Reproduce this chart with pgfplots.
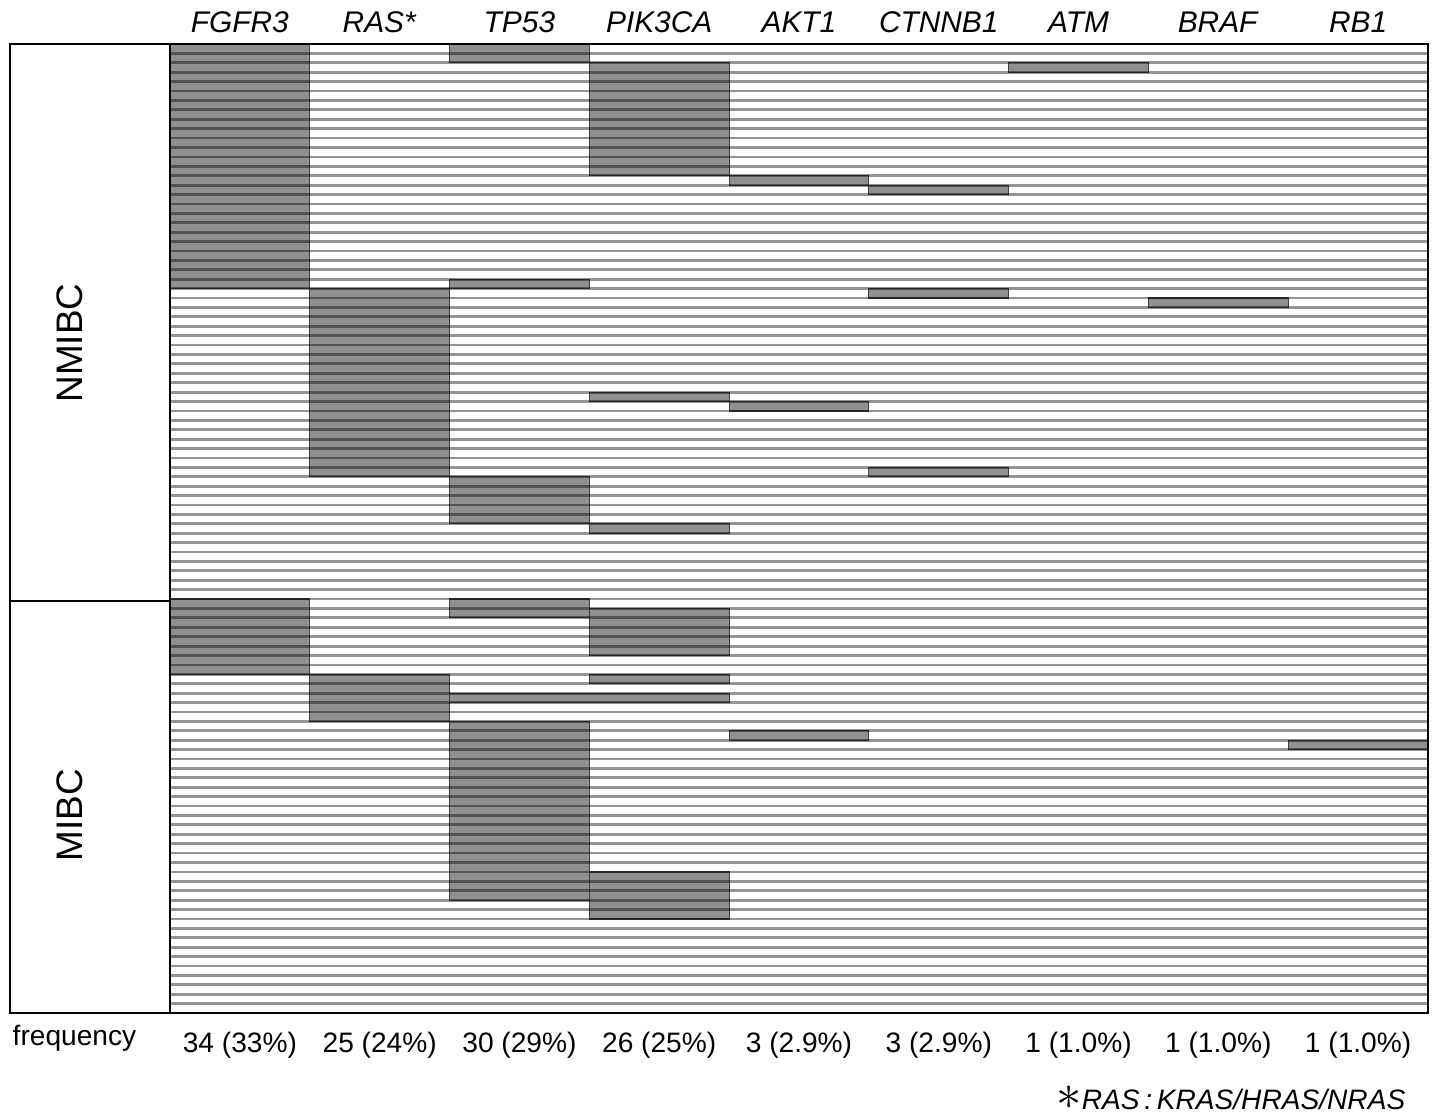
\documentclass[border=0pt]{standalone}
\usepackage{pgfplots}
\pgfplotsset{compat=1.18}
\usepackage{fontspec}
\setmainfont{Liberation Sans}
\definecolor{blkfill}{RGB}{144,144,144}
\newcommand{\blk}[4]{\addplot[blkstyle] coordinates {(#1,#3) (#2,#3) (#2,#4) (#1,#4)} -- cycle;}
\begin{document}
\begin{tikzpicture}
\pgfplotsset{blkstyle/.style={fill=blkfill, draw=black!75, line width=0.12mm, mark=none}}
\begin{axis}[
  at={(0,0)}, anchor=south west, scale only axis,
  width=125.8mm, height=96.9mm,
  xmin=0, xmax=9, ymin=0, ymax=103, y dir=reverse,
  axis on top,
  ytick={0,1,...,103}, yticklabels={}, ymajorgrids,
  xtick={0.5,1.5,...,8.5},
  xticklabels={\textit{FGFR3},\textit{RAS*},\textit{TP53},\textit{PIK3CA},\textit{AKT1},\textit{CTNNB1},\textit{ATM},\textit{BRAF},\textit{RB1}},
  xticklabel pos=top,
  xticklabel style={font=\fontsize{8.5}{10}\selectfont, inner sep=0.6mm, yshift=0.5mm},
  major tick length=0pt,
  grid style={black, opacity=0.42, line width=0.28mm},
  axis line style={black, line width=0.25mm},
  clip=false,
]
% FGFR3
\blk{0}{1}{0}{26}
\blk{0}{1}{59}{67}
% RAS
\blk{1}{2}{26}{46}
\blk{1}{2}{67}{72}
% TP53
\blk{2}{3}{0}{2}
\blk{2}{3}{25}{26}
\blk{2}{3}{46}{51}
\blk{2}{3}{59}{61}
\blk{2}{3}{72}{91}
% PIK3CA
\blk{3}{4}{2}{14}
\blk{3}{4}{37}{38}
\blk{3}{4}{51}{52}
\blk{3}{4}{60}{65}
\blk{3}{4}{67}{68}
\blk{3}{4}{88}{93}
% TP53 + PIK3CA (same sample)
\blk{2}{4}{69}{70}
% AKT1
\blk{4}{5}{14}{15}
\blk{4}{5}{38}{39}
\blk{4}{5}{73}{74}
% CTNNB1
\blk{5}{6}{15}{16}
\blk{5}{6}{26}{27}
\blk{5}{6}{45}{46}
% ATM
\blk{6}{7}{2}{3}
% BRAF
\blk{7}{8}{27}{28}
% RB1
\blk{8}{9}{74}{75}
\end{axis}
% left panel
\draw[black, line width=0.2mm] (-16mm,0) rectangle (0,96.9mm);
\draw[black, line width=0.25mm] (-16mm,41.2mm) -- (0,41.2mm);
\draw[black, line width=0.25mm] (-16mm,96.9mm) -- (0,96.9mm);
\node[rotate=90, font=\fontsize{10.5}{12}\selectfont] at (-10mm,67mm) {NMIBC};
\node[rotate=90, font=\fontsize{10.5}{12}\selectfont] at (-10mm,19.8mm) {MIBC};
% frequency row
\begin{scope}[every node/.style={font=\fontsize{8}{9.6}\selectfont, anchor=base, inner sep=0pt}]
\node[anchor=base west] at (-15.8mm,-3.2mm) {frequency};
\foreach \i/\t in {0/34 (33\%),1/25 (24\%),2/30 (29\%),3/26 (25\%),4/3 (2.9\%),5/3 (2.9\%),6/1 (1.0\%),7/1 (1.0\%),8/1 (1.0\%)}{
  \node at ({(\i+0.5)*125.8mm/9},-3.9mm) {\t};
}
\node[anchor=base east] at (123.6mm,-9.6mm) {{\Large$\ast$}\textit{RAS\,:\,KRAS/HRAS/NRAS}};
\end{scope}
\path[use as bounding box] (-17mm,-10.3mm) rectangle (126.4mm,101.3mm);
\end{tikzpicture}
\end{document}
